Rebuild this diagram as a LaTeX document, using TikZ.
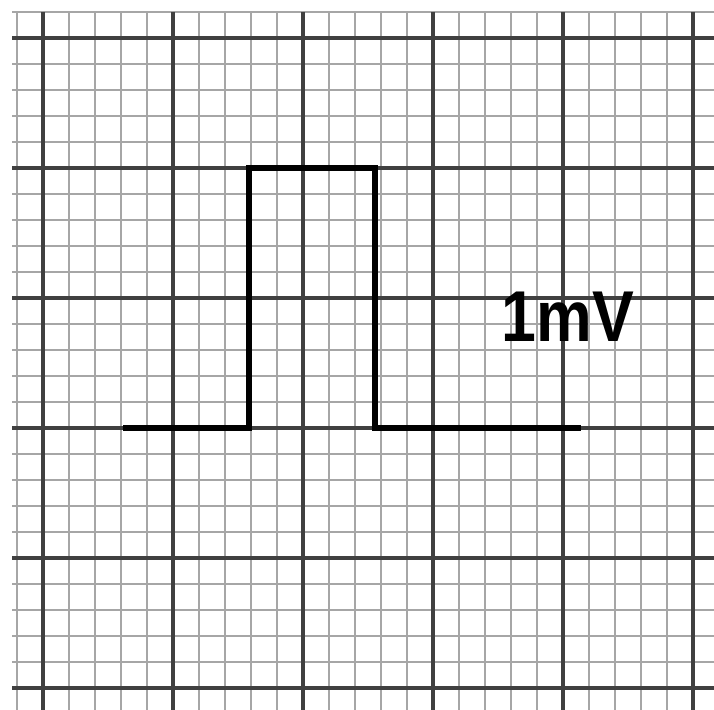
\documentclass[tikz,border=0pt]{standalone}
\usepackage{fontspec}
\setsansfont{Liberation Sans}
\begin{document}
\begin{tikzpicture}[x=0.5pt, y=-0.5pt, font=\sffamily,
    minorline/.style={line width=1.1pt, gray!70},
    majorline/.style={line width=2.2pt, black!75},
    pulse/.style={line width=3.4pt, black}]
  \useasboundingbox (0,0) rectangle (714,710);
  % small squares
  \foreach \k in {0,...,26} {
    \draw[minorline] (17+26*\k,12) -- (17+26*\k,710);
    \draw[minorline] (12,12+26*\k) -- (714,12+26*\k);
  }
  % large squares
  \foreach \k in {1,6,...,26} {
    \draw[majorline] (17+26*\k,12) -- (17+26*\k,710);
    \draw[majorline] (12,12+26*\k) -- (714,12+26*\k);
  }
  % calibration pulse
  \draw[pulse] (123,428) -| (249,168) -| (375,428) -- (581,428);
  \node[anchor=base, inner sep=0pt, xscale=0.87] (lbl) at (568,342)
    {\fontsize{36}{40}\selectfont\bfseries 1mV};
\end{tikzpicture}
\end{document}
